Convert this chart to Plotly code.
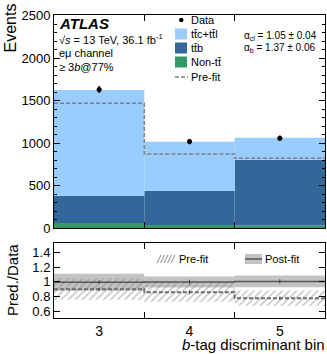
import numpy as np
import plotly.graph_objects as go

W, H = 327, 354
FONT = "Liberation Sans, Arial, Helvetica, sans-serif"

# ---- data -------------------------------------------------------------
bins = [3, 4, 5]
bin_labels = ["3", "4", "5"]
data = [1632, 1018, 1058]
non_tt = [60, 35, 30]
ttb = [320, 401, 775]
ttc_ttl = [1245, 580, 259]
prefit = [1469, 872, 821]
postfit_band = [0.115, 0.075, 0.08]   # half-width in Pred./Data units
prefit_band = [0.145, 0.13, 0.105]
ratio_ticks = [0.6, 0.8, 1.0, 1.2, 1.4]
ratio_tick_text = ["0.6", "0.8", "1", "1.2", "1.4"]

C_LIGHT = "#99ccff"
C_DARK = "#336699"
C_GREEN = "#339966"
C_BAND = "rgba(180,180,180,0.8)"
C_HATCH = "#888888"

# ---- derived ----------------------------------------------------------
x = np.array(bins, dtype=float)
edges = np.concatenate([x - 0.5, [x[-1] + 0.5]])
data_a = np.array(data, dtype=float)
data_err = np.sqrt(data_a)
non_tt_a = np.array(non_tt, dtype=float)
ttb_a = np.array(ttb, dtype=float)
ttc_a = np.array(ttc_ttl, dtype=float)
pre_a = np.array(prefit, dtype=float)
total = non_tt_a + ttb_a + ttc_a
r_post = total / data_a
r_pre = pre_a / data_a
post_b = np.array(postfit_band)
pre_b = np.array(prefit_band)


def step(vals):
    v = np.asarray(vals, dtype=float)
    return np.concatenate([v, [v[-1]]])


fig = go.Figure()

# stacked histogram
for vals, base, col in [
    (non_tt_a, np.zeros_like(non_tt_a), C_GREEN),
    (ttb_a, non_tt_a, C_DARK),
    (ttc_a, non_tt_a + ttb_a, C_LIGHT),
]:
    fig.add_trace(go.Bar(x=x, y=vals, base=base, width=1.0,
                         marker=dict(color=col, line=dict(width=0)),
                         xaxis="x", yaxis="y", showlegend=False))

# pre-fit expectation
fig.add_trace(go.Scatter(x=edges, y=step(pre_a), mode="lines", line_shape="hv",
                         line=dict(color="#808080", width=1.5, dash="4px,2px"),
                         xaxis="x", yaxis="y", showlegend=False))

# data
fig.add_trace(go.Scatter(x=x, y=data_a, mode="markers",
                         marker=dict(color="black", size=5),
                         error_y=dict(type="data", array=data_err, color="black",
                                      thickness=1.5, width=0),
                         xaxis="x", yaxis="y", showlegend=False))

# ---- ratio panel ------------------------------------------------------
fig.add_trace(go.Bar(x=x, y=2 * post_b, base=r_post - post_b, width=1.0,
                     marker=dict(color=C_BAND, line=dict(width=0)),
                     xaxis="x2", yaxis="y2", showlegend=False))
fig.add_trace(go.Bar(x=x, y=2 * pre_b, base=r_pre - pre_b, width=1.0,
                     marker=dict(color="rgba(0,0,0,0)", line=dict(width=0),
                                 pattern=dict(shape="/", fgcolor=C_HATCH,
                                              bgcolor="rgba(0,0,0,0)",
                                              size=5, solidity=0.3)),
                     xaxis="x2", yaxis="y2", showlegend=False))
fig.add_trace(go.Scatter(x=edges, y=step(r_post), mode="lines", line_shape="hv",
                         line=dict(color="#555555", width=1.5),
                         xaxis="x2", yaxis="y2", showlegend=False))
fig.add_trace(go.Scatter(x=edges, y=step(r_pre), mode="lines", line_shape="hv",
                         line=dict(color="#6e6e6e", width=2, dash="4px,2px"),
                         xaxis="x2", yaxis="y2", showlegend=False))
for r in (r_post, r_pre):
    fig.add_trace(go.Scatter(x=x, y=r, mode="markers", marker=dict(size=1, color="#444"),
                             error_y=dict(type="data", array=r * data_err / data_a,
                                          color="#444", thickness=1, width=0),
                             xaxis="x2", yaxis="y2", showlegend=False))


def fx(px):
    return px / W


def fy(py):
    return 1 - py / H


dom_x = [fx(54), fx(325)]
axis_common = dict(showline=True, linecolor="black", linewidth=1, mirror="ticks",
                   showgrid=False, zeroline=False, tickcolor="black", automargin=False,
                   tickfont=dict(family=FONT, size=13, color="black"))

fig.update_layout(
    width=W, height=H, autosize=False, margin=dict(l=0, r=0, t=0, b=0, pad=0),
    paper_bgcolor="white", plot_bgcolor="white", barmode="overlay",
    font=dict(family=FONT, color="black"),
    xaxis=dict(domain=dom_x, range=[edges[0], edges[-1]], anchor="y",
               tickvals=list(x), ticks="inside", ticklen=0, showticklabels=False,
               minor=dict(tickvals=list(edges[1:-1]), ticks="inside", ticklen=6,
                          tickcolor="black"),
               **axis_common),
    yaxis=dict(domain=[fy(228), fy(15)], range=[0, 2510], anchor="x",
               tick0=0, dtick=500, ticks="inside", ticklen=6,
               minor=dict(dtick=100, ticks="inside", ticklen=3, tickcolor="black"),
               **axis_common),
    xaxis2=dict(domain=dom_x, range=[edges[0], edges[-1]], anchor="y2",
                tickvals=list(x), ticktext=bin_labels, ticks="inside", ticklen=0,
                minor=dict(tickvals=list(edges[1:-1]), ticks="inside", ticklen=6,
                           tickcolor="black"),
                **{**axis_common, "tickfont": dict(family=FONT, size=14, color="black")}),
    yaxis2=dict(domain=[fy(317.7), fy(243.3)], range=[0.508, 1.529], anchor="x2",
                tickvals=ratio_ticks, ticktext=ratio_tick_text, ticks="inside",
                ticklen=6, **axis_common),
)

ann = []


def text(px, py, s, size=11, xanchor="left", yanchor="middle", angle=0, **kw):
    ann.append(dict(x=fx(px), y=fy(py), xref="paper", yref="paper", text=s,
                    showarrow=False, xanchor=xanchor, yanchor=yanchor,
                    textangle=angle, font=dict(family=FONT, size=size, color="black"),
                    **kw))


# axis titles
text(10, 2, "Events", size=16, xanchor="center", yanchor="top", angle=-90)
text(12, 280, "Pred./Data", size=15, xanchor="center", angle=-90)
text(326, H, "<i>b</i>-tag discriminant bin", size=15, xanchor="right",
     yanchor="bottom", borderpad=0)

# labels
text(57, 23, "<b><i>ATLAS</i></b>", size=15)
text(57, 39, "√<i>s</i> = 13 TeV, 36.1 fb<sup>-1</sup>", size=11)
text(57, 53, "eμ channel", size=11)
text(57, 67, "≥ 3<i>b</i>@77%", size=11)
text(242, 36, "α<sub>cl</sub> = 1.05 ± 0.04", size=10)
text(242, 48, "α<sub>b</sub> = 1.37 ± 0.06", size=10)

# legend (main panel)
shapes = []
lg_x0, lg_x1, lg_tx = 175, 187, 189
rows = [20, 34, 48, 62, 77]
names = ["Data", "tt̄c+tt̄l", "tt̄b", "Non-tt̄", "Pre-fit"]
for yy, nm in zip(rows, names):
    text(lg_tx, yy, nm, size=11)
shapes.append(dict(type="circle", xref="paper", yref="paper",
                   x0=fx(179), x1=fx(183.5), y0=fy(22.2), y1=fy(17.8),
                   fillcolor="black", line=dict(width=0)))
for yy, col in zip(rows[1:4], [C_LIGHT, C_DARK, C_GREEN]):
    shapes.append(dict(type="rect", xref="paper", yref="paper",
                       x0=fx(lg_x0), x1=fx(lg_x1), y0=fy(yy + 5.5), y1=fy(yy - 5.5),
                       fillcolor=col, line=dict(width=0)))
shapes.append(dict(type="line", xref="paper", yref="paper",
                   x0=fx(lg_x0), x1=fx(lg_x1 + 1), y0=fy(rows[4]), y1=fy(rows[4]),
                   line=dict(color="#808080", width=1.5, dash="4px,2px")))

# legend (ratio panel)
ly = 259
for k in range(5):
    shapes.append(dict(type="line", xref="paper", yref="paper",
                       x0=fx(157 + 3.5 * k), x1=fx(161 + 3.5 * k),
                       y0=fy(ly + 4), y1=fy(ly - 4),
                       line=dict(color=C_HATCH, width=1)))
text(177, ly, "Pre-fit", size=11)
shapes.append(dict(type="rect", xref="paper", yref="paper",
                   x0=fx(245), x1=fx(262), y0=fy(ly + 5), y1=fy(ly - 5),
                   fillcolor=C_BAND, line=dict(width=0)))
shapes.append(dict(type="line", xref="paper", yref="paper",
                   x0=fx(245), x1=fx(262), y0=fy(ly), y1=fy(ly),
                   line=dict(color="#555555", width=1.5)))
text(263, ly, "Post-fit", size=11)

fig.update_layout(annotations=ann, shapes=shapes)
fig.write_html("out.html", config={"responsive": False})
